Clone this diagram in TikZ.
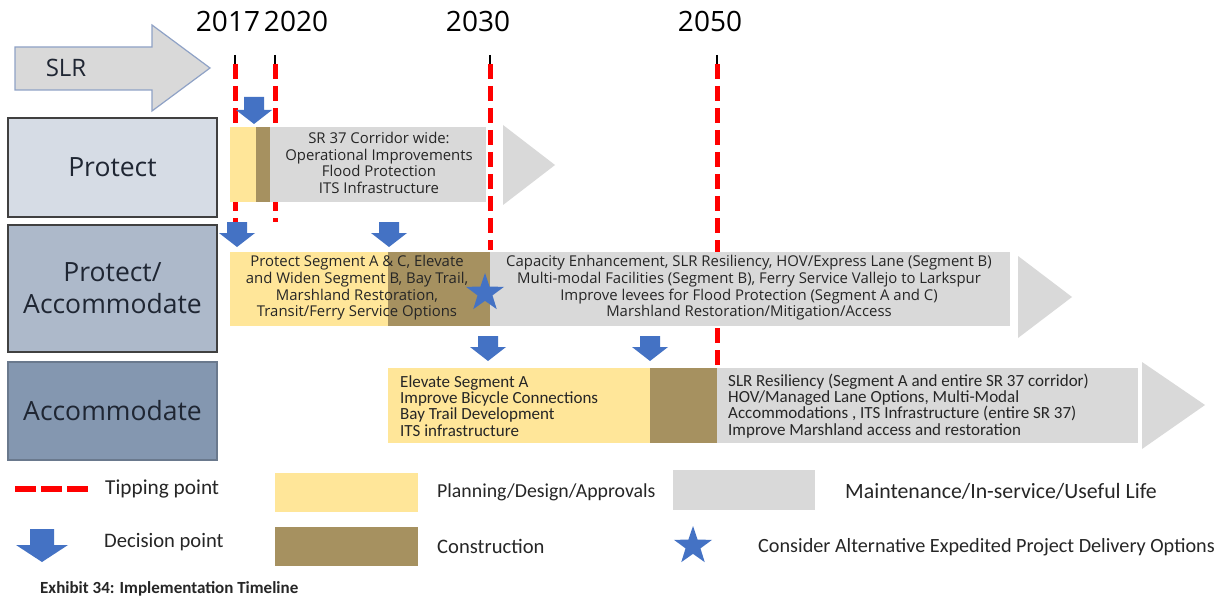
\documentclass[tikz,border=0pt]{standalone}
\usepackage{fontspec}
\setmainfont{Open Sans}
\newfontfamily\calfont{Carlito}
\usetikzlibrary{shapes.geometric}
\definecolor{plan}{HTML}{FFE699}
\definecolor{constr}{HTML}{A69160}
\definecolor{maint}{HTML}{D9D9D9}
\definecolor{decblue}{HTML}{4472C4}
\definecolor{tipred}{HTML}{FF0000}
\definecolor{labA}{HTML}{D6DCE5}
\definecolor{labB}{HTML}{ADB9CA}
\definecolor{labC}{HTML}{8497B0}
\definecolor{txt}{HTML}{262626}
\definecolor{labtxt}{HTML}{1F2633}
\definecolor{slredge}{HTML}{8FA2C6}
\newcommand{\decarr}[6]{\fill[decblue] (#1-#5,#2) -- (#1+#5,#2) -- (#1+#5,#3) -- (#1+#6,#3) -- (#1,#4) -- (#1-#6,#3) -- (#1-#5,#3) -- cycle;}
\tikzset{
  tipline/.style={tipred, line width=5pt, dash pattern=on 15pt off 7pt},
  ostext/.style={font=\fontsize{14.9}{16.6}\selectfont, text=txt, align=center, inner sep=0pt},
  ctext/.style={font=\calfont\fontsize{17}{16.2}\selectfont, text=txt, align=left, inner sep=0pt, anchor=west},
  legtext/.style={font=\calfont\fontsize{#1}{22}\selectfont, text=txt, inner sep=0pt, anchor=west},
  year/.style={font=\fontsize{28}{30}\selectfont, text=black, inner sep=0pt},
  labbox/.style={draw=#1, line width=1.5pt, minimum width=209pt, inner sep=0pt, font=\fontsize{26.5}{32}\selectfont, text=labtxt, align=center},
  rowstar/.style={star, star points=5, star point ratio=2.55, minimum size=40pt, inner sep=0pt, fill=decblue, shape border rotate=0}
}
\begin{document}
\begin{tikzpicture}[x=1pt,y=-1pt]
\fill[white] (0,0) rectangle (1223,596);
\useasboundingbox (0,0) rectangle (1223,596);

% years
\node[year] (y2017) at (228,21) {2017};
\node[year] (y2020) at (296,21) {2020};
\node[year] (y2030) at (478,21) {2030};
\node[year] (y2050) at (710,21) {2050};

% SLR arrow
\draw[fill=maint, draw=slredge, line width=1.2pt] (15,47) -- (152,47) -- (152,25) -- (210,68) -- (152,111) -- (152,90) -- (15,90) -- cycle;
\node[font=\fontsize{24}{26}\selectfont, text=labtxt] (slr) at (66,68) {SLR};

% tipping lines
\foreach \x/\yb in {235/222, 275/222, 490/250, 717/367} {
  \draw[black, line width=1.5pt] (\x,55) -- (\x,64);
  \draw[tipline] (\x,64) -- (\x,\yb);
}

% row 1
\fill[plan] (230,127) rectangle (256,202);
\fill[constr] (256,127) rectangle (270,202);
\fill[maint] (270,127) rectangle (486,202);
\fill[maint] (503,125) -- (555,165) -- (503,205) -- cycle;
\node[ostext] (r1) at (379,163) {SR 37 Corridor wide:\\Operational Improvements\\Flood Protection\\ITS Infrastructure};

% row 2
\fill[plan] (230,252) rectangle (388,326);
\fill[constr] (388,252) rectangle (490,326);
\fill[maint] (490,252) rectangle (1010,326);
\fill[maint] (1018,256) -- (1072,297) -- (1018,338) -- cycle;
\node[ostext] (r2a) at (357,288) {Protect Segment A \& C, Elevate\\and Widen Segment B, Bay Trail,\\Marshland Restoration,\\Transit/Ferry Service Options};
\node[ostext] (r2b) at (749,288) {Capacity Enhancement, SLR Resiliency, HOV/Express Lane (Segment B)\\Multi-modal Facilities (Segment B), Ferry Service Vallejo to Larkspur\\Improve levees for Flood Protection (Segment A and C)\\Marshland Restoration/Mitigation/Access};
\node[rowstar] (star1) at (485,293) {};

% row 3
\fill[plan] (388,368) rectangle (650,443);
\fill[constr] (650,368) rectangle (717,443);
\fill[maint] (717,368) rectangle (1138,443);
\fill[maint] (1142,362) -- (1205,405) -- (1142,449) -- cycle;
\node[ctext] (r3a) at (400,406) {Elevate Segment A\\Improve Bicycle Connections\\Bay Trail Development\\ITS infrastructure};
\node[ctext] (r3b) at (728,406) {SLR Resiliency (Segment A and entire SR 37 corridor)\\HOV/Managed Lane Options, Multi-Modal\\Accommodations , ITS Infrastructure (entire SR 37)\\Improve Marshland access and restoration};

% decision arrows
\decarr{254}{97}{110}{124}{10}{18}
\decarr{237}{222}{233}{247}{10}{18}
\decarr{389}{222}{233}{247}{10}{18}
\decarr{488}{336}{347}{361}{10}{18}
\decarr{650}{336}{347}{361}{10}{18}

% labels
\node[labbox=black!75, fill=labA, minimum height=99pt] (protect) at (112.5,167.5) {Protect};
\node[labbox=black!75, fill=labB, minimum height=127pt] (protacc) at (112.5,288.5) {Protect/\\Accommodate};
\node[labbox=labC!80!black, fill=labC, minimum height=98pt] (accom) at (112.5,411) {Accommodate};

% legend
\draw[tipline, line width=6pt, dash pattern=on 21pt off 5pt] (15,489) -- (90,489);
\node[legtext=21.3] (lgtip) at (105,489) {Tipping point};
\decarr{42}{529}{545}{562}{12}{26}
\node[legtext=20.6] (lgdec) at (104,542) {Decision point};
\fill[plan] (275,473) rectangle (418,512);
\node[legtext=19.8] (lgplan) at (437,492) {Planning/Design/Approvals};
\fill[constr] (275,527) rectangle (418,566);
\node[legtext=20.6] (lgcon) at (437,546) {Construction};
\fill[maint] (673,470) rectangle (815,510);
\node[legtext=21.8] (lgmaint) at (845,491) {Maintenance/In-service/Useful Life};
\node[rowstar] (star2) at (693,546) {};
\node[legtext=20.2] (lgstar) at (758,547) {Consider Alternative Expedited Project Delivery Options};

\node[font=\calfont\bfseries\fontsize{17}{19}\selectfont, text=txt, inner sep=0pt, anchor=west] (caption) at (40,589) {Exhibit 34: Implementation Timeline};
\end{tikzpicture}
\end{document}
